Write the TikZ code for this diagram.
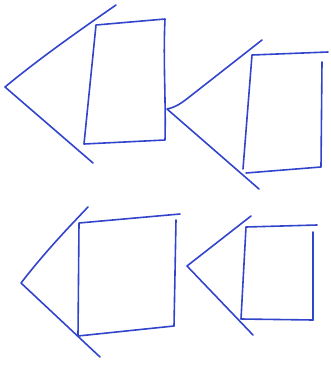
\documentclass[tikz,border=0pt]{standalone}
\begin{document}
\begin{tikzpicture}[x=1pt,y=-1pt,
  pen/.style={draw={rgb,255:red,51;green,68;blue,204}, line width=1.6pt, line cap=round, line join=round}]
\useasboundingbox (0,0) rectangle (330,367);
% shape 1 (top left)
\coordinate (a1) at (5,87);
\coordinate (u1) at (116,5);
\coordinate (l1) at (93,163);
\draw[pen] (u1) .. controls (80,30) and (40,58) .. (a1) -- (l1);
\draw[pen] (96,25) -- (165,19) .. controls (163,60) and (166,100) .. (165,140) -- (84,144) -- cycle;
% shape 2 (top right)
\coordinate (a2) at (167,109);
\coordinate (u2) at (262,40);
\coordinate (l2) at (259,189);
\draw[pen] (u2) -- (188,98) .. controls (178,106) and (172,108) .. (a2) -- (l2);
\draw[pen] (328,52) -- (252,55) -- (243,169);
\draw[pen] (322,62) -- (321,167) -- (246,173);
% shape 3 (bottom left)
\coordinate (a3) at (21,283);
\coordinate (u3) at (88,207);
\coordinate (l3) at (100,357);
\draw[pen] (u3) .. controls (68,228) and (45,252) .. (a3) -- (l3);
\draw[pen] (180,214) -- (79,223) -- (78,336) -- (174,326);
\draw[pen] (176,220) -- (174,326);
% shape 4 (bottom right)
\coordinate (a4) at (187,266);
\coordinate (u4) at (251,216);
\coordinate (l4) at (253,335);
\draw[pen] (u4) -- (a4) -- (l4);
\draw[pen] (317,225) -- (246,227) -- (241,319) -- (313,320);
\draw[pen] (313,232) -- (313,320);
\end{tikzpicture}
\end{document}
